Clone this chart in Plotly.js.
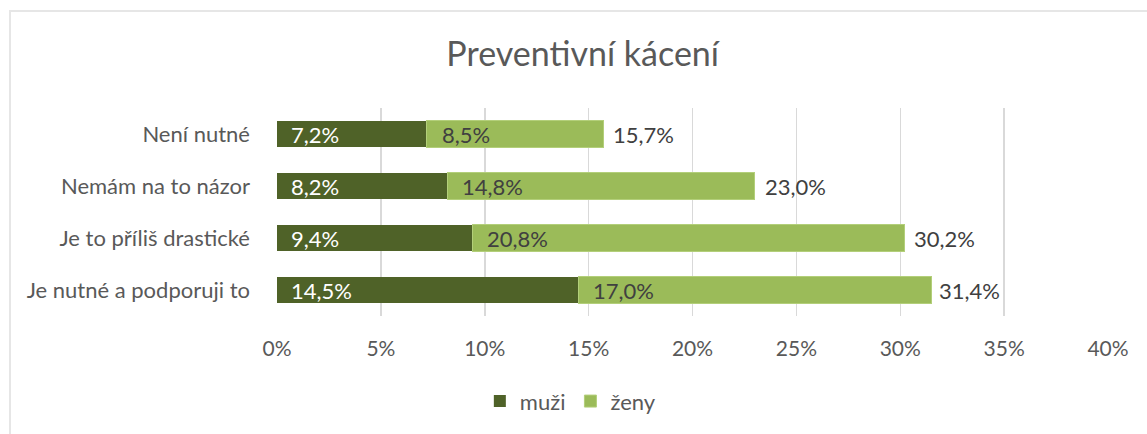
<!DOCTYPE html>
<html>
<head>
<meta charset="utf-8">
<script src="https://cdn.plot.ly/plotly-3.0.1.min.js"></script>
<style>
html,body{margin:0;padding:0;background:#fff;}
#chart{width:1147px;height:434px;}
#frame{position:absolute;left:9px;top:10px;width:1200px;height:500px;border-left:2px solid #e6e6e6;border-top:2px solid #e6e6e6;pointer-events:none;}
</style>
</head>
<body>
<div id="chart"></div>
<div id="frame"></div>
<script>
const categories = ["Je nutné a podporuji to", "Je to příliš drastické", "Nemám na to názor", "Není nutné"];
const muzi = [14.5, 9.4, 8.2, 7.2];
const zeny = [17.0, 20.8, 14.8, 8.5];
const totals = [31.4, 30.2, 23.0, 15.7];
const tickVals = [0, 5, 10, 15, 20, 25, 30, 35, 40];
const tickText = ["0%", "5%", "10%", "15%", "20%", "25%", "30%", "35%", "40%"];

const fmt = v => v.toFixed(1).replace('.', ',') + '%';
const font = "Lato, 'Open Sans', sans-serif";
const grey = "#595959";
const fs = 22;

const traces = [
  {type:'bar', orientation:'h', name:'muži', y:categories, x:muzi,
   marker:{color:'#4f6228'}, hoverinfo:'x'},
  {type:'bar', orientation:'h', name:'ženy', y:categories, x:zeny,
   marker:{color:'#9bbb59', line:{color:'#b3cf7a', width:1}}, hoverinfo:'x'}
];

const annotations = [];
categories.forEach((c, i) => {
  annotations.push({x:0, y:c, xref:'x', yref:'y', text:fmt(muzi[i]), showarrow:false,
    xanchor:'left', xshift:12, font:{family:font, size:fs, color:'#ffffff'}});
  annotations.push({x:muzi[i], y:c, xref:'x', yref:'y', text:fmt(zeny[i]), showarrow:false,
    xanchor:'left', xshift:13, font:{family:font, size:fs, color:'#404040'}});
  annotations.push({x:totals[i], y:c, xref:'x', yref:'y', text:fmt(totals[i]), showarrow:false,
    xanchor:'left', xshift:8, font:{family:font, size:fs, color:'#404040'}});
});

const layout = {
  width:1147, height:434,
  margin:{l:277, r:39, t:108, b:116},
  paper_bgcolor:'#ffffff', plot_bgcolor:'#ffffff',
  barmode:'stack', bargap:0.49,
  font:{family:font, color:grey, size:fs},
  title:{text:'Preventivní kácení', x:0.508, xanchor:'center', y:0.875, yanchor:'middle',
    font:{family:font, size:34, color:grey}},
  xaxis:{range:[0,40], tickvals:tickVals, ticktext:tickText, showgrid:true, gridcolor:'#d9d9d9',
    gridwidth:1.5, zeroline:false, showline:false, ticks:'', ticklabelstandoff:18,
    tickfont:{family:font, size:21, color:grey}, fixedrange:true},
  yaxis:{categoryorder:'array', categoryarray:categories, showgrid:false, zeroline:false,
    showline:false, ticks:'', ticklabelstandoff:26, tickfont:{family:font, size:fs, color:grey}, fixedrange:true},
  legend:{orientation:'h', x:0.353, xanchor:'center', y:-0.41, yanchor:'middle',
    font:{family:font, size:fs, color:grey}, itemwidth:30, traceorder:'normal'},
  annotations:annotations,
  showlegend:true
};

Plotly.newPlot('chart', traces, layout, {displayModeBar:false, staticPlot:true});
</script>
</body>
</html>
